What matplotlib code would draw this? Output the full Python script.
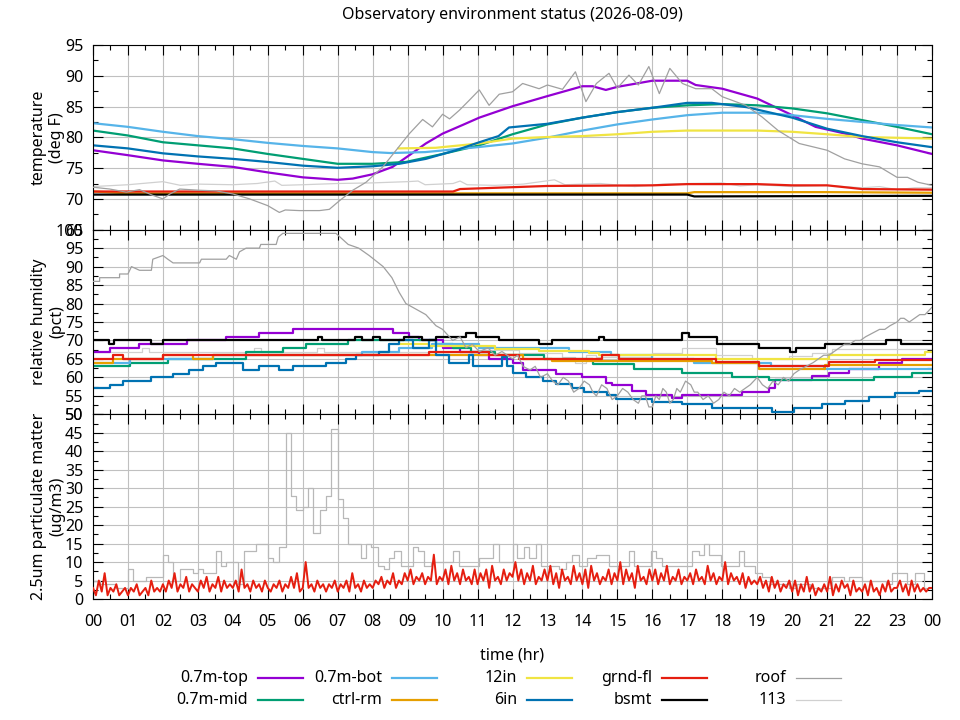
import numpy as np
import matplotlib
matplotlib.use('Agg')
import matplotlib.pyplot as plt
from matplotlib.lines import Line2D
from matplotlib.ticker import MultipleLocator

plt.rcParams['font.family'] = ['Noto Sans', 'DejaVu Sans']
FS = 11.5
plt.rcParams['font.size'] = FS

TITLE = "Observatory environment status (2026-08-09)"
xtick_labels = ['00', '01', '02', '03', '04', '05', '06', '07', '08', '09', '10', '11',
                '12', '13', '14', '15', '16', '17', '18', '19', '20', '21', '22', '23', '00']

series_names = ['0.7m-top', '0.7m-mid', '0.7m-bot', 'ctrl-rm', '12in', '6in',
                'grnd-fl', 'bsmt', 'roof', '113']
series_colors = {'0.7m-top': '#9400d3', '0.7m-mid': '#009e73', '0.7m-bot': '#56b4e9',
                 'ctrl-rm': '#e69f00', '12in': '#f0e442', '6in': '#0072b2',
                 'grnd-fl': '#e51e10', 'bsmt': '#000000', 'roof': '#a0a0a0', '113': '#d0d0d0'}

# ---------------- temperature (deg F): (hour, value) ----------------
temp_top = [(0, 77.9), (1, 77.1), (2, 76.25), (3, 75.7), (4, 75.2), (5, 74.3), (6, 73.5), (7, 73.1),
            (7.43, 73.3), (8, 74.0), (8.57, 75.2), (9.05, 77.1), (9.52, 79.0), (10, 80.6), (10.57, 82.0),
            (11.05, 83.2), (12, 85.05), (13, 86.7), (14, 88.3), (14.29, 88.3), (14.67, 87.7), (15, 88.2),
            (16, 89.2), (17, 89.2), (17.24, 88.5), (18, 87.9), (19, 86.3), (20, 83.6), (20.67, 81.7),
            (21.52, 80.6), (22, 79.8), (23, 78.7), (24, 77.3)]
temp_mid = [(0, 81.1), (1, 80.3), (2, 79.2), (3, 78.7), (4, 78.2), (5, 77.3), (6, 76.5), (7, 75.7),
            (8, 75.7), (8.95, 76.0), (10, 77.3), (11.05, 78.7), (12, 80.5), (13, 82.1), (14, 83.2),
            (15, 84.1), (16, 84.8), (17, 85.2), (18, 85.4), (19, 85.2), (20, 84.7), (21, 83.9),
            (22, 82.8), (23, 81.7), (24, 80.5)]
temp_bot = [(0, 82.3), (1, 81.7), (2, 80.9), (3, 80.2), (4, 79.7), (5, 79.1), (6, 78.6), (7, 78.2),
            (8, 77.6), (8.5, 77.45), (9.5, 77.6), (11, 78.4), (12, 79.0), (13, 79.95), (14, 81.1),
            (15, 82.1), (16, 82.9), (17, 83.6), (18, 84.0), (19, 84.0), (20, 83.6), (21, 83.0),
            (22, 82.5), (23, 82.0), (24, 81.6)]
temp_ctrl = [(0, 71.2), (1, 70.9), (17, 70.9), (17.2, 71.1), (21, 71.1), (24, 71.0)]
temp_12in = [(8.74, 78.2), (9.8, 78.3), (11.05, 79.0), (12, 79.8), (13, 80.05), (14, 80.2), (15, 80.5),
             (16, 80.9), (17, 81.1), (19, 81.1), (20, 80.9), (21, 80.5), (22, 80.05), (24, 79.8)]
temp_6in = [(0, 78.7), (1, 78.2), (2, 77.4), (3, 76.9), (4, 76.5), (5, 76.0), (6, 75.4), (7, 75.05),
            (8, 75.3), (8.76, 75.7), (9.52, 76.5), (10.38, 77.9), (11.05, 79.2), (11.6, 80.2),
            (11.9, 81.6), (13, 82.2), (14, 83.2), (15, 84.1), (16, 84.8), (17, 85.6), (17.7, 85.6),
            (18.7, 84.9), (20, 83.2), (21, 81.4), (22, 80.2), (23, 79.2), (24, 78.4)]
temp_grnd = [(0, 71.2), (10.3, 71.2), (10.5, 71.6), (12, 71.9), (13, 72.1), (16, 72.2), (17, 72.4),
             (19, 72.4), (20, 72.2), (21, 72.2), (22, 71.6), (24, 71.5)]
temp_bsmt = [(0, 70.7), (17, 70.7), (17.2, 70.4), (24, 70.5)]
temp_roof = [(0, 71.9), (0.48, 71.6), (0.95, 71.1), (1.33, 71.5), (1.7, 70.6), (2.0, 70.0), (2.2, 70.8),
             (2.48, 71.6), (3.05, 71.4), (3.52, 71.3), (4.0, 70.8), (4.48, 70.0), (5.0, 68.9),
             (5.33, 67.8), (5.5, 68.2), (5.9, 68.1), (6.48, 68.1), (6.76, 68.3), (7.05, 69.7),
             (7.43, 71.4), (7.81, 72.7), (8.29, 75.2), (8.67, 77.9), (9.05, 80.6), (9.43, 82.9),
             (9.71, 81.7), (10.0, 83.75), (10.2, 83.0), (10.48, 84.4), (10.76, 86.0), (11.05, 87.7),
             (11.33, 85.2), (11.62, 87.0), (12.0, 87.4), (12.29, 88.75), (12.76, 87.9), (13.0, 88.5),
             (13.43, 87.8), (13.8, 90.65), (14.1, 85.8), (14.4, 88.75), (14.76, 90.4), (15.0, 88.0),
             (15.33, 90.1), (15.6, 88.5), (15.9, 91.5), (16.2, 87.1), (16.5, 91.2), (16.86, 88.75),
             (17.24, 87.9), (17.7, 87.9), (18.0, 86.6), (18.67, 85.2), (19.14, 83.3), (19.6, 81.1),
             (20.2, 79.0), (21.0, 77.9), (21.5, 76.5), (22.0, 75.7), (22.5, 75.2), (23.0, 73.5),
             (23.3, 73.5), (23.6, 72.7), (24.0, 72.2)]
temp_113 = [(0, 72.0), (1, 72.3), (2, 72.8), (2.5, 72.2), (3, 72.4), (4, 72.3), (4.7, 72.5), (5.2, 72.9),
            (5.4, 72.2), (6, 72.3), (7, 72.5), (8, 72.6), (9.0, 72.8), (9.3, 72.9), (9.5, 72.3),
            (10.3, 72.5), (10.5, 72.9), (10.7, 72.3), (11.5, 72.2), (12.3, 72.4), (13.2, 73.1),
            (13.5, 72.3), (14.5, 72.5), (15.5, 72.0), (16.3, 72.4), (17.0, 72.5), (18.0, 72.6),
            (18.5, 72.1), (19.0, 72.3), (20.0, 72.0), (21.0, 72.2), (22.0, 71.8), (22.5, 72.0),
            (23.0, 71.5), (23.5, 71.8), (24, 71.8)]

# ---------------- relative humidity (pct): step series (hour, value) ----------------
rh_top = [(0, 67), (0.48, 68), (1.33, 69), (2.7, 70), (3.81, 71), (4.76, 72), (5.71, 73), (8.57, 72),
          (9.05, 71), (9.33, 70), (10.0, 68), (10.5, 67), (11.05, 66), (11.33, 65), (12.0, 64),
          (12.29, 62), (13.24, 61), (14.0, 60), (14.67, 58.6), (14.86, 58), (15.43, 56.3),
          (15.81, 55.2), (16.57, 54.3), (16.86, 55.2), (18.57, 56.1), (19.33, 57.1), (19.52, 59.2),
          (20.57, 60.4), (21.05, 61.3), (21.62, 62.2), (22.48, 64), (23.14, 65), (24, 65)]
rh_mid = [(0, 63), (1.05, 64), (2.14, 65), (4.38, 67), (5.43, 68), (6.1, 69), (7.29, 70), (9.8, 69),
          (10.3, 68), (10.8, 67), (11.5, 66), (12.9, 65), (14.29, 63.5), (15.48, 62.2), (16.86, 61.1),
          (18.29, 60.2), (19.33, 59.2), (22.33, 60.2), (23.43, 61.1), (24, 61.1)]
rh_bot = [(0, 64), (1.05, 65), (3.43, 66), (7.7, 67), (8.76, 68), (9.71, 69), (11.05, 68), (13.62, 67),
          (14.81, 66), (16.0, 65), (17.2, 64), (19.4, 63), (20.9, 62.2), (24, 62.2)]
rh_ctrl = [(0, 64), (0.57, 65), (2.0, 66), (2.86, 65), (3.43, 66), (12.29, 65), (13.14, 64.4),
           (17.71, 63.8), (19.05, 62.4), (20.95, 63.3), (24, 63.3)]
rh_12in = [(8.75, 69), (9.62, 68.5), (11.5, 67.8), (12.76, 67.1), (14.19, 66.5), (14.48, 66),
           (17.81, 65), (21.05, 66), (23.81, 67), (24, 67)]
rh_6in = [(0, 57), (0.48, 58), (0.86, 59), (1.67, 60), (2.29, 61), (2.76, 62), (3.14, 63), (3.52, 64),
          (4.29, 62), (4.76, 63), (5.33, 62), (5.71, 63), (6.67, 64), (7.24, 65), (7.52, 66),
          (8.19, 67), (8.48, 69), (8.76, 70), (9.14, 68), (9.62, 70), (9.81, 66), (10.19, 64),
          (10.76, 66), (10.86, 63), (11.71, 65.6), (11.85, 63), (12.0, 61.1), (12.38, 60.1),
          (12.86, 59.1), (13.24, 58.1), (13.71, 57.1), (14.05, 56.1), (14.71, 55.1), (14.95, 54.1),
          (16.0, 53.3), (16.86, 52.7), (17.71, 51.6), (19.43, 50.6), (20.05, 51.6), (20.86, 52.7),
          (21.52, 53.6), (22.19, 54.7), (22.95, 55.9), (23.62, 56.3), (24, 56.3)]
rh_grnd = [(0, 65), (0.57, 66), (0.86, 65), (2.0, 66), (9.62, 67), (11.33, 66), (12.19, 65),
           (14.57, 66), (15.05, 65), (17.81, 64.1), (19.05, 63.2), (21.05, 64.1), (22.38, 64.8), (24, 64.8)]
rh_bsmt = [(0, 70), (0.45, 69), (0.6, 70), (1.67, 69), (2.0, 70), (6.45, 71), (6.55, 70), (7.5, 71),
           (7.7, 70), (8.0, 71), (8.2, 70), (8.9, 71), (9.4, 70), (9.8, 71), (10.67, 72), (10.95, 71),
           (11.62, 70), (12.76, 69), (13.14, 70), (14.48, 71), (14.62, 70), (16.86, 72), (17.05, 71),
           (17.86, 69), (19.05, 68), (19.95, 67), (20.1, 68), (20.95, 69), (22.67, 70), (23.1, 69), (24, 69)]
rh_roof = [(0, 86), (0.19, 86), (0.19, 87), (0.76, 87), (0.76, 88), (1.0, 88), (1.1, 90), (1.33, 89),
           (1.67, 89), (1.71, 92), (2.0, 93), (2.14, 92), (2.29, 91), (3.05, 91), (3.1, 92), (3.81, 92),
           (3.9, 93), (4.1, 92), (4.19, 94), (4.38, 95), (4.76, 95), (4.8, 96), (5.24, 96), (5.3, 98),
           (5.43, 99), (6.67, 99), (6.95, 99), (7.3, 96), (7.6, 95), (7.9, 93), (8.3, 90), (8.55, 87),
           (8.76, 83), (8.95, 80), (9.33, 78), (9.52, 77), (9.81, 74), (10.0, 73), (10.29, 70),
           (10.5, 71), (10.67, 68), (10.85, 69), (11.05, 67), (11.3, 68), (11.5, 66), (11.7, 67),
           (12.0, 65), (12.15, 66), (12.3, 63), (12.5, 62), (12.65, 63), (12.8, 60),
           (13.0, 61), (13.15, 59), (13.3, 58), (13.45, 60), (13.6, 59), (13.75, 56), (13.9, 57),
           (14.05, 59), (14.2, 58), (14.3, 56), (14.4, 55), (14.55, 58), (14.7, 57), (14.85, 54),
           (15.0, 55), (15.15, 57), (15.3, 56), (15.45, 54), (15.6, 53), (15.7, 55), (15.8, 55),
           (15.9, 52), (16.0, 52), (16.1, 55), (16.2, 54), (16.3, 57), (16.4, 56), (16.5, 53),
           (16.6, 54), (16.7, 57), (16.8, 56), (16.95, 59), (17.1, 58), (17.2, 56), (17.3, 56),
           (17.45, 54), (17.6, 55), (17.75, 53), (17.9, 54), (18.05, 56), (18.2, 55), (18.35, 57),
           (18.5, 56), (18.65, 57), (18.8, 58), (19.0, 60), (19.15, 58), (19.3, 57), (19.45, 59),
           (19.6, 58), (19.75, 60), (19.9, 59), (20.05, 61), (20.2, 62), (20.4, 63), (20.6, 64),
           (20.75, 65), (20.9, 66), (21.05, 66), (21.2, 67), (21.35, 68), (21.5, 69), (21.65, 69),
           (21.8, 70), (21.95, 70), (22.1, 71), (22.3, 72), (22.5, 73), (22.65, 73), (22.8, 74),
           (23.0, 75), (23.1, 76), (23.2, 76), (23.35, 75), (23.5, 76), (23.65, 77), (23.8, 77),
           (23.9, 78), (24.0, 79)]
rh_113 = [(0, 67), (1.4, 68), (1.6, 67), (4.6, 68), (4.8, 67), (6.4, 68), (6.6, 67), (11.05, 67.5),
          (12.19, 66.5), (13.43, 65.5), (13.8, 64), (14.1, 66), (14.38, 65.5), (16.0, 66.5),
          (16.86, 68), (17.81, 66), (18.86, 64.9), (19.9, 65.8), (20.57, 66.7), (21.14, 67.6),
          (22.48, 67.7), (24, 67.7)]

# ---------------- 2.5um particulate matter (ug/m3) ----------------
# grnd-fl, one value every 5 minutes from 00:00 (12 per hour)
pm_grnd = [3, 1, 5, 2, 7, 1, 3, 2, 4, 1, 2, 3,
           1, 3, 2, 4, 1, 2, 3, 1, 5, 2, 3, 2,
           4, 2, 5, 3, 7, 2, 4, 3, 6, 2, 4, 3,
           2, 5, 3, 6, 2, 4, 3, 6, 2, 5, 3, 4,
           3, 5, 2, 8, 3, 4, 2, 5, 3, 4, 2, 5,
           3, 2, 4, 3, 5, 2, 4, 3, 6, 3, 7, 2,
           3, 10, 3, 4, 2, 5, 3, 4, 2, 4, 3, 5,
           2, 4, 3, 5, 2, 7, 3, 4, 2, 5, 3, 4,
           3, 5, 4, 6, 3, 5, 4, 7, 3, 5, 4, 7,
           5, 8, 4, 6, 5, 7, 4, 6, 5, 12, 4, 6,
           5, 8, 4, 9, 5, 7, 4, 8, 5, 6, 4, 8,
           4, 7, 5, 8, 3, 9, 5, 6, 4, 8, 5, 7,
           6, 10, 5, 8, 4, 7, 5, 9, 4, 6, 5, 8,
           5, 9, 4, 7, 3, 8, 5, 6, 4, 9, 5, 7,
           4, 8, 3, 9, 5, 7, 4, 6, 5, 8, 4, 7,
           5, 10, 4, 8, 5, 7, 3, 9, 5, 6, 4, 8,
           5, 8, 4, 7, 5, 9, 4, 6, 5, 8, 4, 6,
           5, 7, 4, 8, 5, 6, 4, 9, 5, 7, 4, 6,
           5, 10, 4, 7, 5, 6, 4, 7, 3, 6, 4, 5,
           4, 6, 3, 5, 2, 6, 3, 5, 2, 4, 3, 5,
           2, 5, 1, 4, 2, 6, 2, 4, 1, 3, 2, 4,
           2, 6, 1, 4, 2, 5, 3, 4, 1, 5, 2, 3,
           2, 4, 1, 5, 2, 3, 1, 4, 2, 5, 2, 3,
           3, 5, 2, 4, 1, 5, 2, 4, 2, 3, 2, 3,
           3]
# gray sensor, step series (hour, value)
pm_gray = [(0, 5), (0.19, 4), (0.67, 3), (1.0, 8), (1.14, 5), (1.52, 6), (2.0, 12), (2.14, 10),
           (2.29, 5), (2.48, 8), (2.86, 7), (3.0, 8), (3.14, 7), (3.52, 13), (3.67, 9), (3.81, 10),
           (4.14, 4), (4.33, 13), (4.67, 15), (5.0, 11), (5.14, 10), (5.31, 14), (5.52, 45),
           (5.67, 28), (5.81, 24), (6.0, 25), (6.14, 30), (6.29, 18), (6.48, 24), (6.67, 28),
           (6.81, 46), (7.0, 27), (7.14, 22), (7.29, 15), (7.67, 11), (7.81, 15), (7.95, 14),
           (8.14, 9), (8.33, 8), (8.48, 11), (8.62, 13), (8.81, 9), (9.14, 14), (9.29, 13),
           (9.48, 9), (9.67, 10), (10.29, 13), (10.48, 9), (11.05, 11), (11.43, 15), (11.62, 10),
           (12.0, 15), (12.14, 11), (12.33, 14), (12.48, 11), (12.67, 15), (12.81, 9), (13.33, 8),
           (13.52, 10), (13.71, 12), (13.9, 9), (14.14, 11), (14.38, 12), (14.76, 9), (15.33, 13),
           (15.48, 9), (15.95, 13), (16.1, 11), (16.29, 9), (17.14, 13), (17.33, 12), (17.48, 15),
           (17.62, 12), (17.95, 9), (18.48, 13), (18.62, 9), (18.95, 7), (19.14, 6), (19.38, 4),
           (19.9, 3), (20.14, 4), (20.52, 3), (21.14, 6), (21.48, 5), (21.62, 6), (22.0, 5),
           (22.67, 4), (22.86, 7), (23.29, 4), (23.52, 7), (23.76, 3), (24, 3)]


def xy(pairs):
    a = np.array(pairs, dtype=float)
    return a[:, 0], a[:, 1]


fig = plt.figure(figsize=(9.6, 7.2), dpi=100)
W, H = 960.0, 720.0
left_px, right_px, top_px, bot_px = 93, 932, 45, 599
ph = (bot_px - top_px) / 3.0
axes = []
for i in range(3):
    y0 = top_px + i * ph
    ax = fig.add_axes([left_px / W, 1 - (y0 + ph) / H, (right_px - left_px) / W, ph / H])
    axes.append(ax)

ax_t, ax_h, ax_p = axes

temp_data = {'0.7m-top': temp_top, '0.7m-mid': temp_mid, '0.7m-bot': temp_bot, 'ctrl-rm': temp_ctrl,
             '12in': temp_12in, '6in': temp_6in, 'grnd-fl': temp_grnd, 'bsmt': temp_bsmt,
             'roof': temp_roof, '113': temp_113}
rh_data = {'0.7m-top': rh_top, '0.7m-mid': rh_mid, '0.7m-bot': rh_bot, 'ctrl-rm': rh_ctrl,
           '12in': rh_12in, '6in': rh_6in, 'grnd-fl': rh_grnd, 'bsmt': rh_bsmt,
           'roof': rh_roof, '113': rh_113}

def lw_of(name):
    return 0.9 if name in ('roof', '113') else 1.6

def z_of(name):
    return {'113': 1.5, 'roof': 3.5}.get(name, 2.5)

for name in series_names:
    x, y = xy(temp_data[name])
    ax_t.plot(x, y, color=series_colors[name], lw=lw_of(name), zorder=z_of(name))
    x, y = xy(rh_data[name])
    ds = 'default' if name == 'roof' else 'steps-post'
    ax_h.plot(x, y, color=series_colors[name], lw=lw_of(name), zorder=z_of(name), drawstyle=ds)

xg, yg = xy(pm_gray)
ax_p.plot(xg, yg, color='#b8b8b8', lw=0.9, drawstyle='steps-post', zorder=2)
pm_t = np.arange(len(pm_grnd)) / 12.0
ax_p.plot(pm_t, pm_grnd, color=series_colors['grnd-fl'], lw=1.4, zorder=3)

limits = [(65, 95), (50, 100), (0, 50)]
ylabels = ['temperature\n(deg F)', 'relative humidity\n(pct)', '2.5um particulate matter\n(ug/m3)']
for ax, (lo, hi), yl in zip(axes, limits, ylabels):
    ax.set_xlim(0, 24)
    ax.set_ylim(lo, hi)
    ax.set_xticks(np.arange(25))
    ax.xaxis.set_minor_locator(MultipleLocator(0.5))
    ax.yaxis.set_major_locator(MultipleLocator(5))
    ax.yaxis.set_minor_locator(MultipleLocator(2.5))
    ax.tick_params(which='both', direction='in', top=True, right=True, width=0.8, colors='black',
                   labelsize=FS)
    ax.tick_params(which='major', length=7)
    ax.tick_params(which='minor', length=3.5)
    ax.tick_params(axis='y', pad=7)
    ax.tick_params(axis='x', pad=11)
    ax.grid(True, which='major', color='#c0c0c0', lw=0.8, zorder=0)
    ax.set_axisbelow(True)
    for sp in ax.spines.values():
        sp.set_linewidth(0.8)
    ax.set_ylabel(yl, fontsize=FS, linespacing=1.2)
    ax.yaxis.set_label_coords(-0.033, 0.5)
    if ax is ax_p:
        ax.set_xticklabels(xtick_labels)
    else:
        ax.set_xticklabels([])

fig.text(512.5 / W, 1 - 15 / H, TITLE, ha='center', va='center', fontsize=FS)
fig.text(512.5 / W, 1 - 655 / H, 'time (hr)', ha='center', va='center', fontsize=FS)

# legend: label right-aligned, sample line after it
legend_rows = [['0.7m-top', '0.7m-bot', '12in', 'grnd-fl', 'roof'],
               ['0.7m-mid', 'ctrl-rm', '6in', 'bsmt', '113']]
col_text_end = [248, 382, 517, 652, 786]
row_y = [678, 700]
for r, row in enumerate(legend_rows):
    for c, name in enumerate(row):
        xe = col_text_end[c]
        yy = 1 - row_y[r] / H
        fig.text(xe / W, yy, name, ha='right', va='center', fontsize=FS)
        fig.add_artist(Line2D([(xe + 10) / W, (xe + 55) / W], [yy, yy], transform=fig.transFigure,
                              color=series_colors[name], lw=lw_of(name)))

fig.savefig('out.png', dpi=100)
